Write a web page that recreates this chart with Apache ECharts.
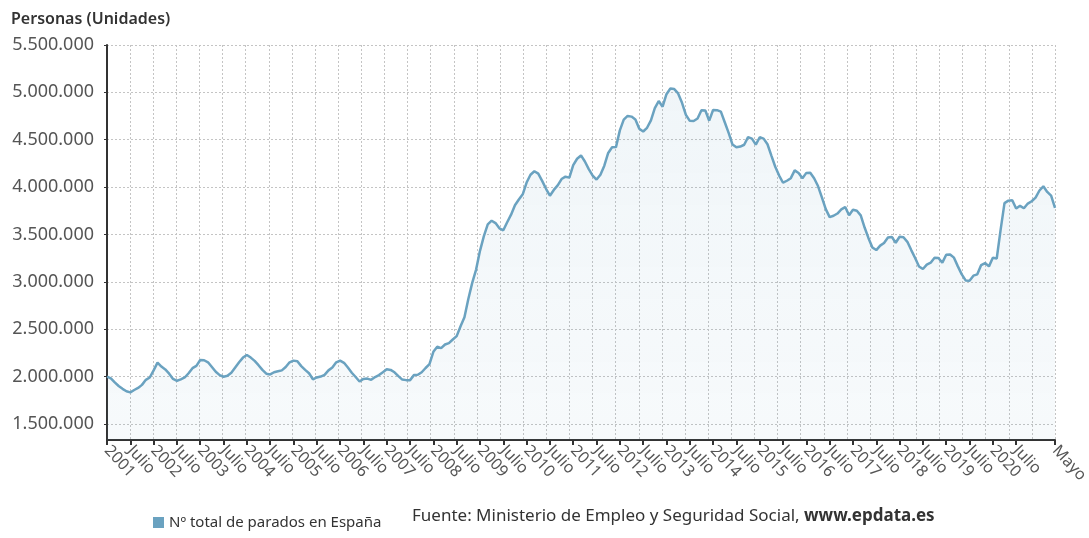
<!DOCTYPE html>
<html>
<head>
<meta charset="utf-8">
<title>Parados en España</title>
<script src="https://cdn.jsdelivr.net/npm/echarts@6/dist/echarts.min.js"></script>
<style>
  html, body { margin: 0; padding: 0; background: #fff; }
  #chart { width: 1089px; height: 538px; }
</style>
</head>
<body>
<div id="chart"></div>
<script>
// paro registrado mensual, enero 2001 - mayo 2021
const firstYear = 2001;
const lastLabel = 'Mayo';
const midLabel = 'Julio';
const yTicks = [1500000, 2000000, 2500000, 3000000, 3500000, 4000000, 4500000, 5000000, 5500000];
const parados = [
  2000000, 1981000, 1938000, 1900000, 1870000, 1845000, 1833000, 1858000, 1880000, 1912000, 1965000, 1990000, // 2001
  2065000, 2147000, 2105000, 2075000, 2030000, 1975000, 1955000, 1970000, 1990000, 2035000, 2088000, 2112000, // 2002
  2175000, 2172000, 2150000, 2100000, 2050000, 2015000, 1998000, 2008000, 2040000, 2095000, 2150000, 2200000, // 2003
  2228000, 2200000, 2165000, 2120000, 2070000, 2030000, 2022000, 2045000, 2055000, 2065000, 2100000, 2150000, // 2004
  2168000, 2162000, 2110000, 2070000, 2035000, 1971000, 1990000, 2000000, 2017000, 2065000, 2095000, 2150000, // 2005
  2168000, 2145000, 2095000, 2040000, 1995000, 1948000, 1975000, 1978000, 1965000, 1995000, 2015000, 2045000, // 2006
  2077000, 2070000, 2045000, 2005000, 1968000, 1962000, 1962000, 2015000, 2018000, 2045000, 2090000, 2130000, // 2007
  2261000, 2315000, 2300000, 2338000, 2353000, 2391000, 2427000, 2530000, 2625000, 2818000, 2989000, 3129000, // 2008
  3327000, 3482000, 3606000, 3645000, 3620000, 3565000, 3544000, 3629000, 3709000, 3808000, 3869000, 3924000, // 2009
  4048000, 4130000, 4167000, 4142000, 4066000, 3982000, 3909000, 3970000, 4018000, 4085000, 4110000, 4100000, // 2010
  4231000, 4299000, 4334000, 4270000, 4190000, 4122000, 4080000, 4131000, 4226000, 4360000, 4420000, 4422000, // 2011
  4599000, 4712000, 4751000, 4744000, 4714000, 4615000, 4587000, 4626000, 4705000, 4834000, 4908000, 4849000, // 2012
  4981000, 5040000, 5035000, 4989000, 4890000, 4763000, 4699000, 4698000, 4724000, 4811000, 4808000, 4701000, // 2013
  4814000, 4812000, 4796000, 4684000, 4572000, 4449000, 4420000, 4428000, 4447000, 4527000, 4512000, 4448000, // 2014
  4526000, 4512000, 4452000, 4333000, 4215000, 4121000, 4046000, 4067000, 4094000, 4176000, 4149000, 4094000, // 2015
  4150000, 4152000, 4094000, 4011000, 3891000, 3767000, 3683000, 3697000, 3721000, 3764000, 3789000, 3702000, // 2016
  3760000, 3750000, 3702000, 3573000, 3461000, 3363000, 3335000, 3382000, 3410000, 3467000, 3474000, 3412000, // 2017
  3476000, 3470000, 3422000, 3335000, 3252000, 3162000, 3135000, 3182000, 3202000, 3254000, 3252000, 3202000, // 2018
  3285000, 3289000, 3255000, 3163000, 3079000, 3015000, 3011000, 3065000, 3079000, 3177000, 3198000, 3163000, // 2019
  3253000, 3246000, 3549000, 3831000, 3857000, 3862000, 3773000, 3802000, 3776000, 3826000, 3851000, 3888000, // 2020
  3964000, 4008000, 3949000, 3910000, 3781000                                                                  // 2021
];

// categorias "AAAA-MM"
const meses = parados.map(function (v, i) {
  const y = firstYear + Math.floor(i / 12);
  const m = (i % 12) + 1;
  return y + '-' + (m < 10 ? '0' + m : m);
});
const lastIdx = meses.length - 1;

// etiquetas cada 6 meses y la ultima; se omite la que cae pegada al final
function showTick(i) {
  return (i % 6 === 0 && lastIdx - i >= 6) || i === lastIdx;
}

function fmtMiles(v) {
  return String(v).replace(/\B(?=(\d{3})+(?!\d))/g, '.');
}

const lineColor = '#6aa2c0';
const gridDash = { color: '#c4c4c4', width: 1, type: [2, 2] };
const chart = echarts.init(document.getElementById('chart'));

chart.setOption({
  animation: false,
  textStyle: { fontFamily: 'Noto Sans' },
  title: {
    text: 'Personas (Unidades)',
    left: 6,
    top: 6,
    textStyle: { fontSize: 16, fontWeight: 600, color: '#333', fontFamily: 'Noto Sans' }
  },
  grid: {
    left: 107,
    right: 34,
    top: 45,
    bottom: 98,
    outerBoundsMode: 'none'
  },
  legend: {
    left: 148,
    top: 510,
    icon: 'rect',
    itemWidth: 11,
    itemHeight: 11,
    textStyle: { fontSize: 15, color: '#333', fontFamily: 'Noto Sans' },
    data: ['Nº total de parados en España']
  },
  graphic: [{
    type: 'text',
    left: 412,
    top: 508,
    style: {
      text: '{a|Fuente: Ministerio de Empleo y Seguridad Social, }{b|www.epdata.es}',
      rich: {
        a: { fontSize: 17, fill: '#333', fontFamily: 'Noto Sans' },
        b: { fontSize: 17, fill: '#333', fontWeight: 'bold', fontFamily: 'Noto Sans' }
      }
    }
  }],
  xAxis: [{
    type: 'category',
    data: meses,
    boundaryGap: false,
    axisLine: { show: true, lineStyle: { color: '#333', width: 2 } },
    axisTick: { show: true, interval: showTick, length: 5, lineStyle: { color: '#333', width: 2 } },
    axisLabel: {
      interval: showTick,
      rotate: -47,
      margin: 8,
      fontSize: 16,
      color: '#555',
      fontFamily: 'Noto Sans',
      formatter: function (val) {
        if (val === meses[lastIdx]) return lastLabel;
        return val.slice(5) === '01' ? val.slice(0, 4) : midLabel;
      }
    },
    splitLine: { show: false }
  }, {
    // rejilla vertical: divisiones iguales de extremo a extremo
    type: 'value',
    min: 0,
    max: 41,
    interval: 1,
    position: 'bottom',
    axisLine: { show: false },
    axisTick: { show: false },
    axisLabel: { show: false },
    splitLine: { show: true, lineStyle: gridDash }
  }],
  yAxis: {
    type: 'value',
    min: 1330000,
    max: 5500000,
    axisLine: { show: true, lineStyle: { color: '#333', width: 2 } },
    axisTick: { show: true, length: 3, customValues: yTicks, lineStyle: { color: '#333' } },
    axisLabel: {
      customValues: yTicks,
      fontSize: 18,
      color: '#555',
      margin: 13,
      fontFamily: 'Noto Sans',
      formatter: function (v) { return fmtMiles(v); }
    },
    splitLine: { show: true, lineStyle: gridDash }
  },
  series: [{
    name: 'Nº total de parados en España',
    type: 'line',
    xAxisIndex: 0,
    data: parados,
    showSymbol: false,
    symbol: 'none',
    itemStyle: { color: lineColor },
    lineStyle: { color: lineColor, width: 2.5 },
    areaStyle: {
      color: new echarts.graphic.LinearGradient(0, 0, 0, 1, [
        { offset: 0, color: 'rgba(106,162,192,0.14)' },
        { offset: 1, color: 'rgba(106,162,192,0.08)' }
      ])
    }
  }]
});
</script>
</body>
</html>
